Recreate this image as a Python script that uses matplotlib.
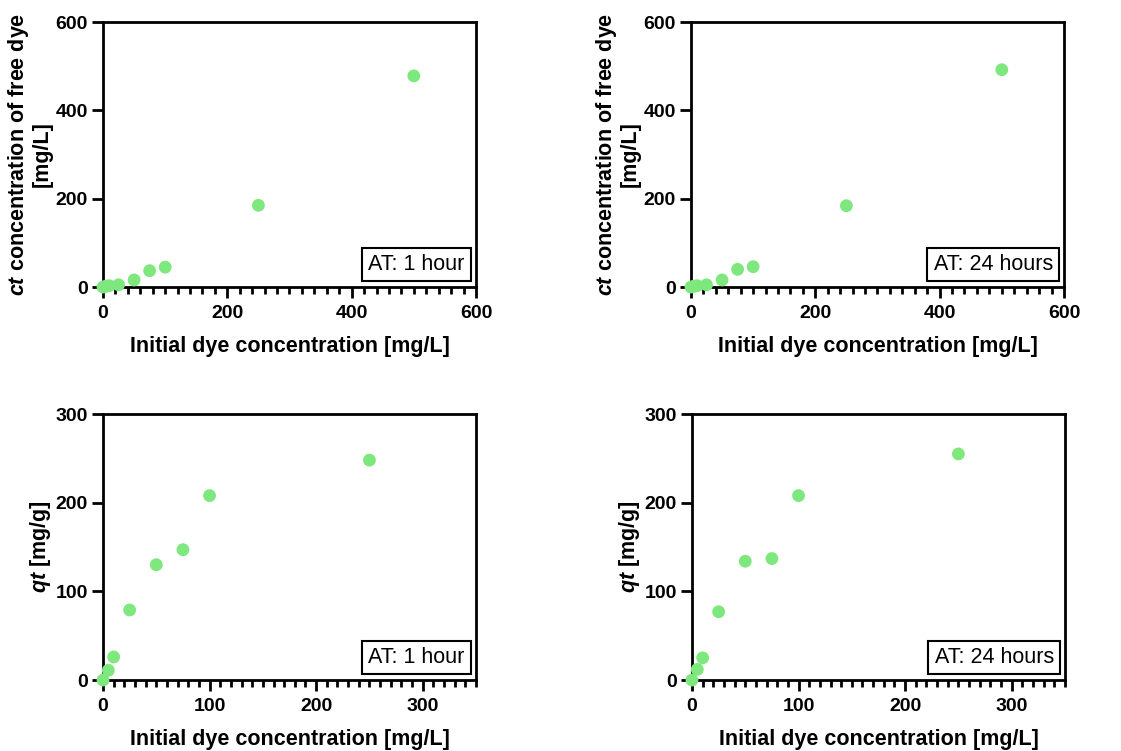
import matplotlib
matplotlib.use('Agg')
import matplotlib.pyplot as plt
from matplotlib.ticker import MultipleLocator

plt.rcParams['font.family'] = ['Liberation Sans', 'DejaVu Sans']
plt.rcParams['mathtext.fontset'] = 'custom'
plt.rcParams['mathtext.it'] = 'Liberation Sans:bold:italic'
plt.rcParams['mathtext.rm'] = 'Liberation Sans:bold'

# initial dye concentration [mg/L]
c0 = [0, 5, 10, 25, 50, 75, 100, 250, 500]

# ct, free dye after adsorption [mg/L]
ct_1h = [0, 2, 3, 5, 16, 37, 45, 185, 478]
ct_24h = [0, 2, 3, 5, 16, 40, 46, 184, 492]

# qt [mg/g] (no 500 point)
c0_q = [0, 5, 10, 25, 50, 75, 100, 250]
qt_1h = [0, 11, 26, 79, 130, 147, 208, 248]
qt_24h = [0, 12, 25, 77, 134, 137, 208, 255]

green = '#7ee87e'

fig = plt.figure(figsize=(11.21, 7.51), dpi=100)

positions = [
    [0.0919, 0.6178, 0.3327, 0.3529],
    [0.6164, 0.6178, 0.3327, 0.3529],
    [0.0919, 0.0945, 0.3327, 0.3542],
    [0.6173, 0.0945, 0.3327, 0.3542],
]

panels = [
    (c0, ct_1h, 'AT: 1 hour', 'ct'),
    (c0, ct_24h, 'AT: 24 hours', 'ct'),
    (c0_q, qt_1h, 'AT: 1 hour', 'qt'),
    (c0_q, qt_24h, 'AT: 24 hours', 'qt'),
]

for pos, (x, y, label, kind) in zip(positions, panels):
    ax = fig.add_axes(pos)
    ax.scatter(x, y, s=85, color=green, edgecolors='none', clip_on=False, zorder=3)

    if kind == 'ct':
        ax.set_xlim(0, 600)
        ax.set_ylim(0, 600)
        ax.xaxis.set_major_locator(MultipleLocator(200))
        ax.xaxis.set_minor_locator(MultipleLocator(20))
        ax.yaxis.set_major_locator(MultipleLocator(200))
        ax.set_ylabel('$ct$ concentration of free dye\n[mg/L]', fontsize=15.5,
                      fontweight='bold', labelpad=2, linespacing=1.05)
    else:
        ax.set_xlim(0, 350)
        ax.set_ylim(0, 300)
        ax.xaxis.set_major_locator(MultipleLocator(100))
        ax.xaxis.set_minor_locator(MultipleLocator(10))
        ax.yaxis.set_major_locator(MultipleLocator(100))
        ax.set_ylabel('$qt$ [mg/g]', fontsize=15.5, fontweight='bold', labelpad=2)

    ax.set_xlabel('Initial dye concentration [mg/L]', fontsize=15.5,
                  fontweight='bold', labelpad=10)

    for sp in ax.spines.values():
        sp.set_linewidth(2)
    ax.tick_params(axis='both', which='major', length=8, width=2,
                   labelsize=14, direction='out', pad=3)
    ax.tick_params(axis='x', which='major', pad=5)
    ax.tick_params(axis='x', which='minor', length=5, width=2, direction='out')
    for t in ax.get_xticklabels() + ax.get_yticklabels():
        t.set_fontweight('bold')

    ax.text(0.97, 0.045, label, transform=ax.transAxes, ha='right', va='bottom',
            fontsize=15.5, zorder=5,
            bbox=dict(boxstyle='square,pad=0.28', fc='white', ec='black', lw=1.5))

fig.savefig('out.png', dpi=100)
